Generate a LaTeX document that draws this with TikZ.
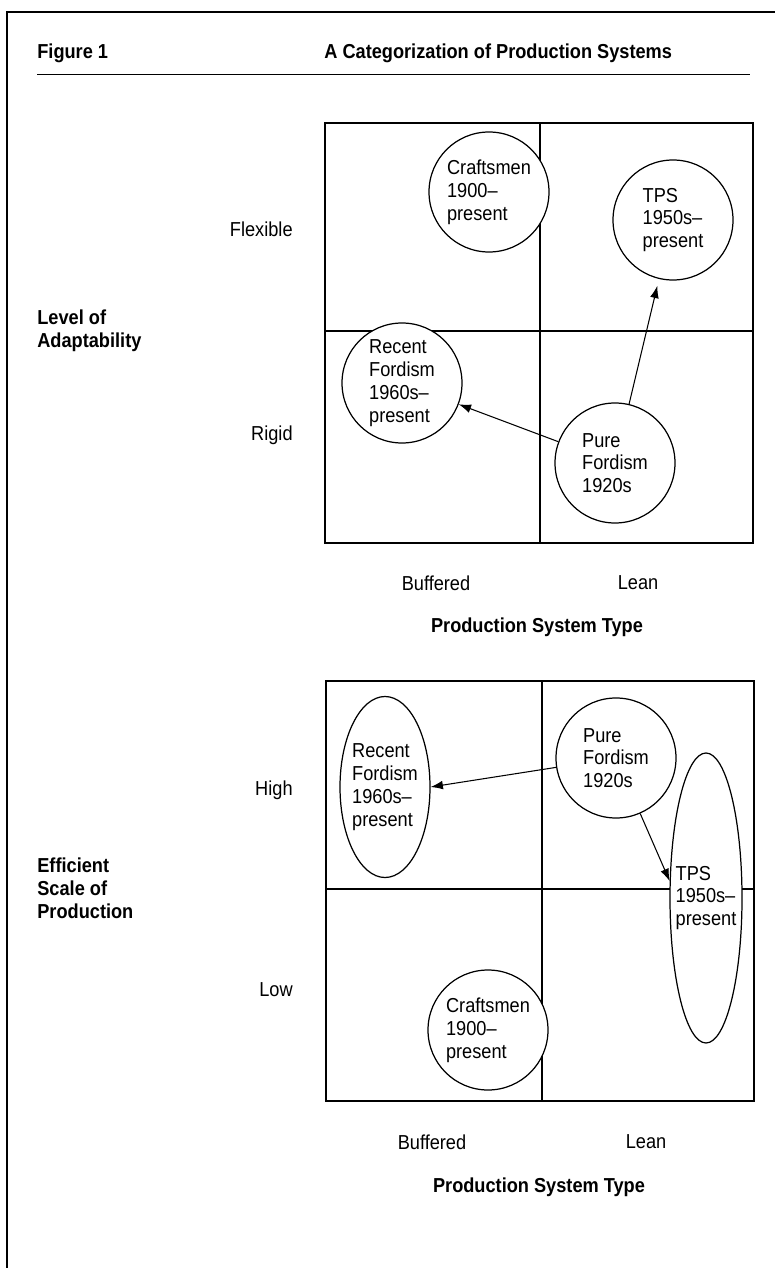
\documentclass[tikz,border=0pt]{standalone}
\usepackage{fontspec}
\setmainfont{Liberation Sans}[FakeStretch=0.9]
\usepackage{tikz}
\usetikzlibrary{positioning}
\usetikzlibrary{shapes.geometric}
\usetikzlibrary{arrows.meta}
\newcommand{\basefont}{\fontsize{11.5pt}{13pt}\selectfont}
\tikzstyle{system}=[circle, draw, fill=white, line width=0.7pt, minimum size=24mm, inner sep=0pt, align=left]
\tikzstyle{period}=[ellipse, draw, fill=white, line width=0.7pt, inner sep=0pt]
\tikzstyle{caption}=[align=left, inner sep=0pt]
\tikzstyle{heading}=[align=left, inner sep=0pt, font=\basefont\bfseries]
\tikzstyle{grid}=[line width=0.8pt]
\tikzstyle{arrow}=[-{Latex[length=7pt, width=5pt]}, line width=0.6pt]

\begin{document}
\begin{tikzpicture}[x=0.2mm, y=-0.2mm, font=\basefont]
      \useasboundingbox (0,0) rectangle (775,1268);

      % frame and header
      \draw [line width=1.1pt] (775,12) -- (7,12) -- (7,1268);
      \node [heading, anchor=base west] (fig) at (37,59) {Figure 1};
      \node [heading, anchor=base west] (title) at (324,59) {A Categorization of Production Systems};
      \draw [line width=0.5pt] (37,74) -- (750,74);

      % upper panel
      \draw [grid] (325,123) rectangle (753,543);
      \draw [grid] (540,123) -- (540,543);
      \draw [grid] (325,331) -- (753,331);

      \node [caption, anchor=east] (flexible) at (293,229) {Flexible};
      \node [caption, anchor=east] (rigid) at (293,435) {Rigid};
      \node [heading, anchor=west] (adapt) at (37,331) {Level of\\Adaptability};
      \node [caption] (bufferedA) at (436,583) {Buffered};
      \node [caption] (leanA) at (638,583) {Lean};
      \node [heading] (typeA) at (537,627) {Production System Type};

      \node [system] (craftA) at (489,192) {Craftsmen\\1900--\\present};
      \node [system] (tpsA) at (673,220) {TPS\\1950s--\\present};
      \node [system] (recentA) at (402,383) {Recent\\Fordism\\1960s--\\present};
      \node [system] (pureA) at (615,463) {Pure\\Fordism\\1920s};

      \draw [arrow, shorten >=4pt] (pureA) -- (tpsA);
      \draw [arrow] (pureA) -- (recentA);

      % lower panel
      \draw [grid] (326,681) rectangle (754,1101);
      \draw [grid] (542,681) -- (542,1101);
      \draw [grid] (326,889) -- (754,889);

      \node [caption, anchor=east] (high) at (293,790) {High};
      \node [caption, anchor=east] (low) at (293,990) {Low};
      \node [heading, anchor=west] (scale) at (37,888) {Efficient\\Scale of\\Production};
      \node [caption] (bufferedB) at (432,1142) {Buffered};
      \node [caption] (leanB) at (646,1142) {Lean};
      \node [heading] (typeB) at (539,1187) {Production System Type};

      \node [period, minimum width=18mm, minimum height=36.2mm] (recentB) at (385,787) {};
      \node [caption] (recentBtext) at (recentB) {Recent\\Fordism\\1960s--\\present};
      \node [period, minimum width=14.4mm, minimum height=58mm] (tpsB) at (706,898) {};
      \node [caption] (tpsBtext) at (tpsB) {TPS\\1950s--\\present};
      \node [system] (pureB) at (616,758) {Pure\\Fordism\\1920s};
      \node [system] (craftB) at (488,1030) {Craftsmen\\1900--\\present};

      \draw [arrow] (pureB) -- (recentB.east);
      \draw [arrow] (pureB) -- (tpsB.155);
\end{tikzpicture}
\end{document}
